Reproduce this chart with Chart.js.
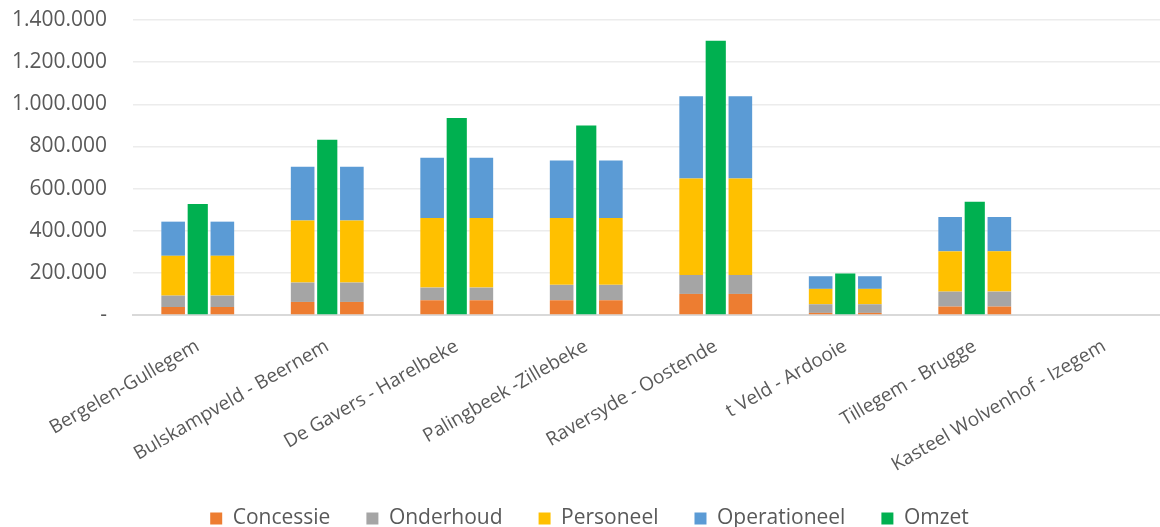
<!DOCTYPE html>
<html lang="nl">
<head>
  <meta charset="UTF-8" />
  <title>Kosten en omzet per domein</title>
  <script src="https://cdn.jsdelivr.net/npm/chart.js"></script>
  <style>
    body {
      margin: 0;
      background: white;
      overflow: hidden;
    }
    /* plot area runs a few px past the right edge, like the original */
    .wrap {
      width: 1169px;
      height: 527px;
    }
  </style>
</head>
<body>
  <div class="wrap">
    <canvas id="chart"></canvas>
  </div>

  <script>
    const categories = [
      'Bergelen-Gullegem',
      'Bulskampveld - Beernem',
      'De Gavers - Harelbeke',
      'Palingbeek -Zillebeke',
      'Raversyde - Oostende',
      't Veld - Ardooie',
      'Tillegem - Brugge',
      'Kasteel Wolvenhof - Izegem'
    ];

    const concessie    = [38000, 62000, 70000, 70000, 100000, 10000, 40000, 0];
    const onderhoud    = [54000, 92000, 60000, 73000, 90000, 41000, 71000, 0];
    const personeel    = [189000, 294000, 330000, 317000, 458000, 73000, 191000, 0];
    const operationeel = [162000, 255000, 286000, 273000, 390000, 60000, 163000, 0];
    const omzet        = [527000, 832000, 935000, 899000, 1301000, 197000, 538000, 0];

    const yTicks = [0, 200000, 400000, 600000, 800000, 1000000, 1200000, 1400000];

    const costSeries = [
      ['Concessie', concessie, '#ED7D31'],
      ['Onderhoud', onderhoud, '#A5A5A5'],
      ['Personeel', personeel, '#FFC000'],
      ['Operationeel', operationeel, '#5B9BD5']
    ];

    function costSet(stack, hidden) {
      return costSeries.map(([label, data, color]) => ({
        label,
        data,
        backgroundColor: color,
        stack,
        barPercentage: 0.96,
        hideInLegend: hidden
      }));
    }

    const datasets = [
      ...costSet('links', false),
      {
        label: 'Omzet',
        data: omzet,
        backgroundColor: '#00B050',
        stack: 'midden',
        barPercentage: 0.82
      },
      ...costSet('rechts', true)
    ];

    function formatNl(v) {
      if (v === 0) return '-';
      return v.toString().replace(/\B(?=(\d{3})+(?!\d))/g, '.');
    }

    const txt = '#595959';
    const fam = "'Open Sans', sans-serif";

    new Chart(document.getElementById('chart'), {
      type: 'bar',
      data: { labels: categories, datasets },
      options: {
        responsive: true,
        maintainAspectRatio: false,
        animation: false,
        layout: { padding: { left: 10, right: 0, top: 0, bottom: -12 } },
        datasets: { bar: { categoryPercentage: 0.57 } },
        scales: {
          x: {
            stacked: true,
            grid: { display: false },
            border: { color: '#d9d9d9', width: 2 },
            ticks: {
              color: txt,
              font: { family: fam, size: 19 },
              minRotation: 30,
              maxRotation: 30,
              padding: 12
            },
            afterFit: axis => {
              axis.height = 157;
            }
          },
          y: {
            stacked: true,
            min: 0,
            max: 1400000,
            afterBuildTicks: axis => {
              axis.ticks = yTicks.map(v => ({ value: v }));
            },
            afterFit: axis => {
              axis.width = 123;
              axis.paddingTop = 20;
              axis.paddingBottom = 10;
            },
            grid: { color: '#ececec', lineWidth: 1.5, drawTicks: false },
            border: { display: false },
            ticks: {
              color: txt,
              font: { family: fam, size: 21 },
              padding: 26,
              callback: v => formatNl(v)
            }
          }
        },
        plugins: {
          tooltip: { enabled: false },
          legend: {
            position: 'bottom',
            labels: {
              color: txt,
              font: { family: fam, size: 21 },
              boxWidth: 12,
              boxHeight: 12,
              padding: 36,
              filter: item => !datasets[item.datasetIndex].hideInLegend
            }
          }
        }
      }
    });
  </script>
</body>
</html>
